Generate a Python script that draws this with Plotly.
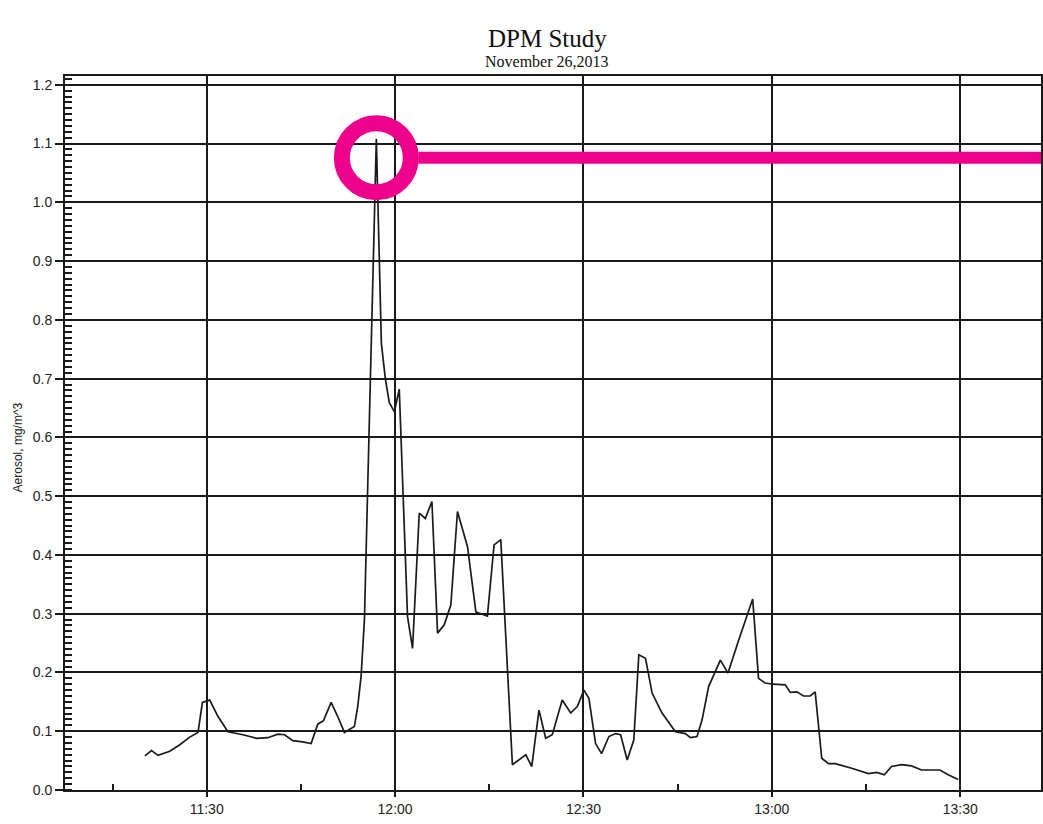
import plotly.graph_objects as go

# Aerosol readings, 26 Nov 2013
DAY = "2013-11-26"
times = [
    "11:20:09", "11:21:13", "11:22:16", "11:24:07", "11:25:43", "11:27:18", "11:28:37",
    "11:29:19", "11:30:29", "11:31:48", "11:33:23", "11:35:46", "11:37:54", "11:39:44",
    "11:41:20", "11:42:24", "11:43:43", "11:45:18", "11:46:38", "11:47:41", "11:48:36",
    "11:49:49", "11:50:52", "11:51:56", "11:53:31", "11:54:03", "11:54:35", "11:55:07",
    "11:57:01", "11:57:49", "11:58:27", "11:59:05", "11:59:53", "12:00:40", "12:01:59",
    "12:02:47", "12:03:51", "12:04:49", "12:05:52", "12:06:46", "12:07:50", "12:08:53",
    "12:09:56", "12:11:32", "12:12:52", "12:14:42", "12:15:46", "12:16:50", "12:18:41",
    "12:20:49", "12:21:46", "12:22:55", "12:23:59", "12:25:02", "12:26:37", "12:27:58",
    "12:29:01", "12:30:05", "12:30:52", "12:31:56", "12:32:53", "12:34:03", "12:35:07",
    "12:35:55", "12:36:58", "12:38:01", "12:38:49", "12:39:53", "12:40:56", "12:42:31",
    "12:44:39", "12:46:14", "12:47:02", "12:48:05", "12:48:53", "12:49:56", "12:51:48",
    "12:53:01", "12:54:43", "12:56:57", "12:57:53", "12:58:57", "13:00:16", "13:02:08",
    "13:02:56", "13:03:59", "13:05:02", "13:06:07", "13:06:54", "13:07:57", "13:09:01",
    "13:10:05", "13:12:43", "13:15:22", "13:16:41", "13:17:55", "13:19:04", "13:20:40",
    "13:22:15", "13:23:50", "13:26:46", "13:28:05", "13:29:41",
]
aerosol = [
    0.058, 0.067, 0.059, 0.066, 0.077, 0.090, 0.098,
    0.149, 0.153, 0.125, 0.099, 0.094, 0.088, 0.089,
    0.095, 0.094, 0.084, 0.082, 0.079, 0.112, 0.118,
    0.149, 0.125, 0.098, 0.108, 0.142, 0.193, 0.289,
    1.108, 0.760, 0.700, 0.659, 0.644, 0.682, 0.295,
    0.241, 0.471, 0.462, 0.491, 0.267, 0.281, 0.315,
    0.474, 0.414, 0.303, 0.296, 0.417, 0.426, 0.043,
    0.060, 0.040, 0.136, 0.088, 0.094, 0.153, 0.131,
    0.142, 0.170, 0.156, 0.079, 0.062, 0.091, 0.096,
    0.094, 0.051, 0.085, 0.230, 0.224, 0.165, 0.131,
    0.099, 0.096, 0.089, 0.091, 0.119, 0.176, 0.221,
    0.199, 0.255, 0.325, 0.190, 0.182, 0.180, 0.179,
    0.166, 0.167, 0.160, 0.160, 0.167, 0.054, 0.045,
    0.045, 0.037, 0.028, 0.030, 0.026, 0.040, 0.043,
    0.041, 0.034, 0.034, 0.026, 0.018,
]
y_ticks = [round(0.1 * i, 1) for i in range(13)]
x_ticks = ["11:30", "12:00", "12:30", "13:00", "13:30"]

x_vals = [f"{DAY} {t}" for t in times]
peak_i = max(range(len(aerosol)), key=lambda i: aerosol[i])
peak_x = x_vals[peak_i]

PINK = "#ec008c"
INK = "#1a1a1a"
HIGHLIGHT_Y = 1.076

fig = go.Figure()
fig.add_trace(go.Scatter(
    x=x_vals, y=aerosol, mode="lines",
    line=dict(color=INK, width=1.7),
    hoverinfo="x+y", showlegend=False,
))

# peak highlight: ring plus a bar running off to the right
fig.add_shape(type="circle", xref="x", yref="y",
              xsizemode="pixel", ysizemode="pixel",
              xanchor=peak_x, yanchor=HIGHLIGHT_Y,
              x0=-34.5, x1=34.5, y0=-34.5, y1=34.5,
              line=dict(color=PINK, width=16), layer="above")
fig.add_shape(type="line", xref="x", yref="y",
              xsizemode="pixel", ysizemode="pixel",
              xanchor=peak_x, yanchor=HIGHLIGHT_Y,
              x0=42, x1=720, y0=0, y1=0,
              line=dict(color=PINK, width=12), layer="above")

fig.update_xaxes(
    type="date",
    range=[f"{DAY} 11:07:26", f"{DAY} 13:42:52"],
    tickvals=[f"{DAY} {t}" for t in x_ticks],
    ticktext=x_ticks,
    showgrid=True, gridcolor=INK, gridwidth=1.6,
    showline=True, linecolor=INK, linewidth=2, mirror=True,
    ticks="outside", ticklen=5, tickcolor=INK, tickwidth=1.5,
    minor=dict(dtick=15 * 60 * 1000, tick0=f"{DAY} 11:00", ticks="inside",
               ticklen=6, tickcolor=INK, tickwidth=1.5, showgrid=False),
    tickfont=dict(family="Liberation Sans, Arial, sans-serif", size=14, color="#222"),
    zeroline=False,
)
fig.update_yaxes(
    range=[0, 1.215],
    tickvals=y_ticks,
    ticktext=[f"{v:.1f}" for v in y_ticks],
    showgrid=True, gridcolor=INK, gridwidth=1.6,
    showline=True, linecolor=INK, linewidth=2, mirror=True,
    ticks="outside", ticklen=8, tickcolor=INK, tickwidth=1.5,
    minor=dict(dtick=0.01, tick0=0, ticks="inside", ticklen=7,
               tickcolor=INK, tickwidth=1.5, showgrid=False),
    tickfont=dict(family="Liberation Sans, Arial, sans-serif", size=14, color="#222"),
    zeroline=False,
)

fig.add_annotation(text="DPM Study", xref="paper", yref="paper",
                   x=0.494, y=1.053, showarrow=False, xanchor="center", yanchor="middle",
                   font=dict(family="Liberation Serif, Times New Roman, serif", size=25, color="#111"))
fig.add_annotation(text="November 26,2013", xref="paper", yref="paper",
                   x=0.494, y=1.021, showarrow=False, xanchor="center", yanchor="middle",
                   font=dict(family="Liberation Serif, Times New Roman, serif", size=16, color="#111"))
fig.add_annotation(text="Aerosol, mg/m^3", xref="paper", yref="paper",
                   x=-0.048, y=0.48, showarrow=False, textangle=-90,
                   xanchor="center", yanchor="middle",
                   font=dict(family="Liberation Sans, Arial, sans-serif", size=12, color="#222"))

fig.update_layout(
    width=1043, height=824,
    margin=dict(l=65, r=0, t=76, b=34),
    paper_bgcolor="white", plot_bgcolor="white",
    showlegend=False,
)

fig.write_html("out.html")
